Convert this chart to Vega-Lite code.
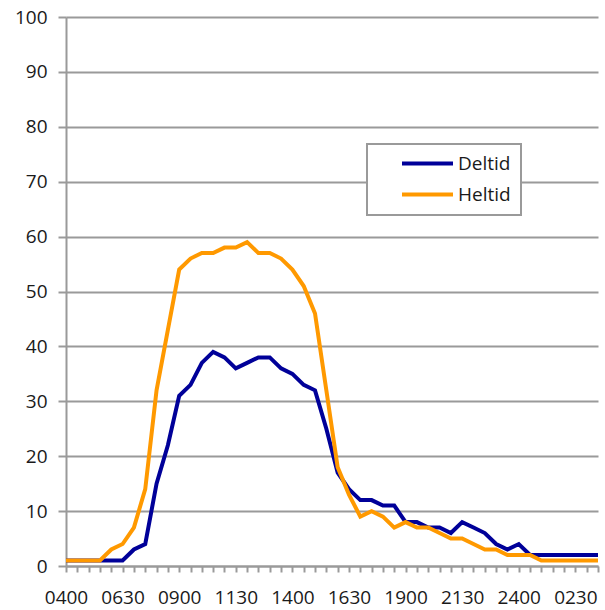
{
  "$schema": "https://vega.github.io/schema/vega-lite/v6.json",
  "width": 532,
  "height": 549,
  "autosize": {"type": "none"},
  "padding": {"left": 66, "top": 17, "right": 7, "bottom": 44},
  "background": "white",
  "config": {
    "view": {"stroke": null},
    "font": "Open Sans"
  },
  "data": {
    "values": [
      {"t": "0400", "serie": "Deltid", "v": 1}, {"t": "0430", "serie": "Deltid", "v": 1},
      {"t": "0500", "serie": "Deltid", "v": 1}, {"t": "0530", "serie": "Deltid", "v": 1},
      {"t": "0600", "serie": "Deltid", "v": 1}, {"t": "0630", "serie": "Deltid", "v": 1},
      {"t": "0700", "serie": "Deltid", "v": 3}, {"t": "0730", "serie": "Deltid", "v": 4},
      {"t": "0800", "serie": "Deltid", "v": 15}, {"t": "0830", "serie": "Deltid", "v": 22},
      {"t": "0900", "serie": "Deltid", "v": 31}, {"t": "0930", "serie": "Deltid", "v": 33},
      {"t": "1000", "serie": "Deltid", "v": 37}, {"t": "1030", "serie": "Deltid", "v": 39},
      {"t": "1100", "serie": "Deltid", "v": 38}, {"t": "1130", "serie": "Deltid", "v": 36},
      {"t": "1200", "serie": "Deltid", "v": 37}, {"t": "1230", "serie": "Deltid", "v": 38},
      {"t": "1300", "serie": "Deltid", "v": 38}, {"t": "1330", "serie": "Deltid", "v": 36},
      {"t": "1400", "serie": "Deltid", "v": 35}, {"t": "1430", "serie": "Deltid", "v": 33},
      {"t": "1500", "serie": "Deltid", "v": 32}, {"t": "1530", "serie": "Deltid", "v": 25},
      {"t": "1600", "serie": "Deltid", "v": 17}, {"t": "1630", "serie": "Deltid", "v": 14},
      {"t": "1700", "serie": "Deltid", "v": 12}, {"t": "1730", "serie": "Deltid", "v": 12},
      {"t": "1800", "serie": "Deltid", "v": 11}, {"t": "1830", "serie": "Deltid", "v": 11},
      {"t": "1900", "serie": "Deltid", "v": 8}, {"t": "1930", "serie": "Deltid", "v": 8},
      {"t": "2000", "serie": "Deltid", "v": 7}, {"t": "2030", "serie": "Deltid", "v": 7},
      {"t": "2100", "serie": "Deltid", "v": 6}, {"t": "2130", "serie": "Deltid", "v": 8},
      {"t": "2200", "serie": "Deltid", "v": 7}, {"t": "2230", "serie": "Deltid", "v": 6},
      {"t": "2300", "serie": "Deltid", "v": 4}, {"t": "2330", "serie": "Deltid", "v": 3},
      {"t": "2400", "serie": "Deltid", "v": 4}, {"t": "0030", "serie": "Deltid", "v": 2},
      {"t": "0100", "serie": "Deltid", "v": 2}, {"t": "0130", "serie": "Deltid", "v": 2},
      {"t": "0200", "serie": "Deltid", "v": 2}, {"t": "0230", "serie": "Deltid", "v": 2},
      {"t": "0300", "serie": "Deltid", "v": 2}, {"t": "0330", "serie": "Deltid", "v": 2},
      {"t": "0400", "serie": "Heltid", "v": 1}, {"t": "0430", "serie": "Heltid", "v": 1},
      {"t": "0500", "serie": "Heltid", "v": 1}, {"t": "0530", "serie": "Heltid", "v": 1},
      {"t": "0600", "serie": "Heltid", "v": 3}, {"t": "0630", "serie": "Heltid", "v": 4},
      {"t": "0700", "serie": "Heltid", "v": 7}, {"t": "0730", "serie": "Heltid", "v": 14},
      {"t": "0800", "serie": "Heltid", "v": 32}, {"t": "0830", "serie": "Heltid", "v": 43},
      {"t": "0900", "serie": "Heltid", "v": 54}, {"t": "0930", "serie": "Heltid", "v": 56},
      {"t": "1000", "serie": "Heltid", "v": 57}, {"t": "1030", "serie": "Heltid", "v": 57},
      {"t": "1100", "serie": "Heltid", "v": 58}, {"t": "1130", "serie": "Heltid", "v": 58},
      {"t": "1200", "serie": "Heltid", "v": 59}, {"t": "1230", "serie": "Heltid", "v": 57},
      {"t": "1300", "serie": "Heltid", "v": 57}, {"t": "1330", "serie": "Heltid", "v": 56},
      {"t": "1400", "serie": "Heltid", "v": 54}, {"t": "1430", "serie": "Heltid", "v": 51},
      {"t": "1500", "serie": "Heltid", "v": 46}, {"t": "1530", "serie": "Heltid", "v": 32},
      {"t": "1600", "serie": "Heltid", "v": 18}, {"t": "1630", "serie": "Heltid", "v": 13},
      {"t": "1700", "serie": "Heltid", "v": 9}, {"t": "1730", "serie": "Heltid", "v": 10},
      {"t": "1800", "serie": "Heltid", "v": 9}, {"t": "1830", "serie": "Heltid", "v": 7},
      {"t": "1900", "serie": "Heltid", "v": 8}, {"t": "1930", "serie": "Heltid", "v": 7},
      {"t": "2000", "serie": "Heltid", "v": 7}, {"t": "2030", "serie": "Heltid", "v": 6},
      {"t": "2100", "serie": "Heltid", "v": 5}, {"t": "2130", "serie": "Heltid", "v": 5},
      {"t": "2200", "serie": "Heltid", "v": 4}, {"t": "2230", "serie": "Heltid", "v": 3},
      {"t": "2300", "serie": "Heltid", "v": 3}, {"t": "2330", "serie": "Heltid", "v": 2},
      {"t": "2400", "serie": "Heltid", "v": 2}, {"t": "0030", "serie": "Heltid", "v": 2},
      {"t": "0100", "serie": "Heltid", "v": 1}, {"t": "0130", "serie": "Heltid", "v": 1},
      {"t": "0200", "serie": "Heltid", "v": 1}, {"t": "0230", "serie": "Heltid", "v": 1},
      {"t": "0300", "serie": "Heltid", "v": 1}, {"t": "0330", "serie": "Heltid", "v": 1}
    ]
  },
  "mark": {"type": "line", "strokeWidth": 4, "strokeJoin": "miter", "strokeCap": "butt"},
  "encoding": {
    "x": {
      "field": "t",
      "type": "ordinal",
      "sort": null,
      "scale": {"type": "point", "padding": 0},
      "axis": {
        "title": null,
        "labelAngle": 0,
        "labelExpr": "indexof(['0400','0630','0900','1130','1400','1630','1900','2130','2400','0230'], datum.value) >= 0 ? datum.value : ''",
        "labelOverlap": false,
        "labelBound": false,
        "labelFlush": false,
        "labelFont": "Open Sans",
        "labelFontSize": 19,
        "labelColor": "#1a1a1a",
        "labelPadding": 16,
        "tickSize": 6,
        "tickWidth": 2,
        "tickColor": "#9a9a9a",
        "domainColor": "#9a9a9a",
        "domainWidth": 2,
        "grid": false
      }
    },
    "y": {
      "field": "v",
      "type": "quantitative",
      "scale": {"domain": [0, 100], "nice": false},
      "axis": {
        "title": null,
        "values": [0, 10, 20, 30, 40, 50, 60, 70, 80, 90, 100],
        "labelFont": "Open Sans",
        "labelFontSize": 19,
        "labelColor": "#1a1a1a",
        "labelPadding": 11,
        "tickSize": 8,
        "tickWidth": 2,
        "tickColor": "#9a9a9a",
        "domainColor": "#9a9a9a",
        "domainWidth": 2,
        "grid": true,
        "gridColor": "#9a9a9a",
        "gridWidth": 2
      }
    },
    "color": {
      "field": "serie",
      "type": "nominal",
      "scale": {"domain": ["Deltid", "Heltid"], "range": ["#000099", "#FF9900"]},
      "legend": {
        "title": null,
        "orient": "none",
        "legendX": 301,
        "legendY": 127,
        "fillColor": "white",
        "strokeColor": "#9a9a9a",
        "padding": 10,
        "symbolType": "M-3.4,0H3.4",
        "symbolSize": 225,
        "symbolStrokeWidth": 4,
        "symbolOffset": 41,
        "labelFont": "Open Sans",
        "labelFontSize": 19,
        "labelColor": "#1a1a1a",
        "labelOffset": 21,
        "labelExpr": "datum.label + '        '",
        "rowPadding": 11,
        "encode": {"legend": {"update": {"strokeWidth": {"value": 2}}}}
      }
    }
  }
}
